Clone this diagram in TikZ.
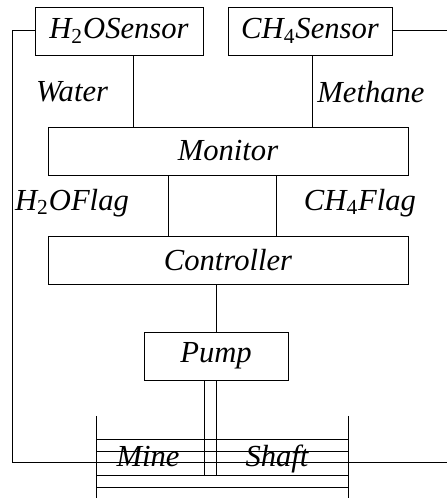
\documentclass[tikz,border=0pt]{standalone}
\usepackage{fontspec}
\setmainfont{Liberation Serif}
\usepackage{tikz}
\usetikzlibrary{positioning}

\newcommand{\sub}[1]{\textsubscript{\upshape #1}}

\begin{document}
\begin{tikzpicture}[
      x=0.5pt, y=0.5pt,
      lbl/.style={font=\fontsize{15.3}{18}\selectfont\itshape, inner sep=0pt},
      blk/.style={draw, lbl, minimum height=24pt},
      wire/.style={line width=0.5pt}
    ]
    \useasboundingbox (0,0) rectangle (447,498);

    % Blocchi
    \node[blk, minimum width=84pt] (h2o) at (119,467) {H\sub{2}OSensor};
    \node[blk, minimum width=82pt] (ch4) at (310,467) {CH\sub{4}Sensor};
    \node[blk, minimum width=180pt] (mon) at (228,347) {Monitor};
    \node[blk, minimum width=180pt] (ctrl) at (228,238) {Controller};
    \node[blk, minimum width=72pt] (pump) at (216,142) {Pump};

    % Segnali
    \draw[wire] (h2o.south -| 133,0) -- (mon.north -| 133,0);
    \draw[wire] (ch4.south -| 312,0) -- (mon.north -| 312,0);
    \draw[wire] (mon.south -| 168,0) -- (ctrl.north -| 168,0);
    \draw[wire] (mon.south -| 276,0) -- (ctrl.north -| 276,0);
    \draw[wire] (ctrl.south -| pump.north) -- (pump.north);

    \node[lbl] (water) at (72,406) {Water};
    \node[lbl] (methane) at (371,406) {Methane};
    \node[lbl] (h2oflag) at (72,295) {H\sub{2}OFlag};
    \node[lbl] (ch4flag) at (360,295) {CH\sub{4}Flag};

    % Anello dei sensori
    \coordinate (loopL) at (12,35);
    \coordinate (loopR) at (447,35);
    \draw[wire] (h2o.west) -| (loopL) -- (loopR);
    \draw[wire] (ch4.east) -- (447,467);

    % Tubo della pompa
    \draw[wire] (pump.south -| 204,0) -- (204,22);
    \draw[wire] (pump.south -| 216,0) -- (216,22);

    % Pozzo
    \draw[wire] (96,82) -- (96,0);
    \draw[wire] (348,82) -- (348,0);
    \foreach \y in {58,46,22,10}
      \draw[wire] (96,\y) -- (348,\y);
    \node[lbl, anchor=base] (mine) at (148,32) {Mine};
    \node[lbl, anchor=base] (shaft) at (277,32) {Shaft};
  \end{tikzpicture}
\end{document}
